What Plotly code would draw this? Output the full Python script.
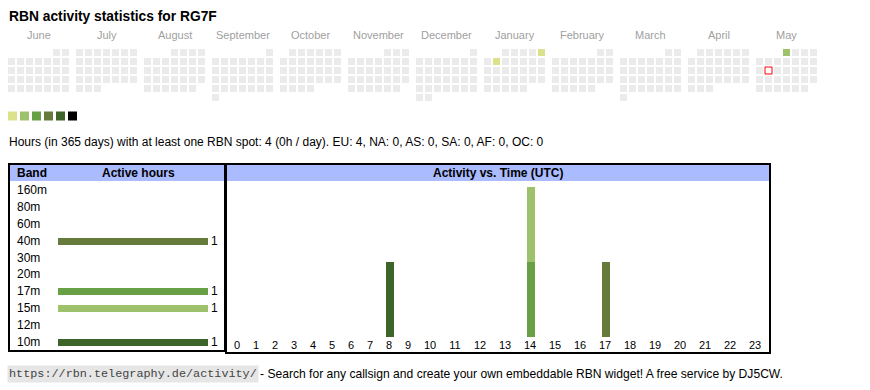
import datetime as dt
import plotly.graph_objects as go

# ---------------- data ----------------
title_text = "RBN activity statistics for RG7F"
month_names = ["June", "July", "August", "September", "October", "November",
               "December", "January", "February", "March", "April", "May"]
cal_start = "2024-06-01"
cal_end = "2025-05-31"
today = "2025-05-13"
active_dates = ["2025-01-05", "2025-01-07", "2025-05-01"]
active_date_hours = [1, 1, 2]
level_colors = ["#dce28b", "#9ec26b", "#68a046", "#667b3b", "#3e6529", "#000000"]
empty_color = "#ebebeb"

stat_text = ("Hours (in 365 days) with at least one RBN spot: 4 (0h / day). "
             "EU: 4, NA: 0, AS: 0, SA: 0, AF: 0, OC: 0")

bands = ["160m", "80m", "60m", "40m", "30m", "20m", "17m", "15m", "12m", "10m"]
band_active_hours = [0, 0, 0, 1, 0, 0, 1, 1, 0, 1]
band_colors = ["#000000", "#3e6529", "#667b3b", "#667b3b", "#68a046",
               "#9ec26b", "#68a046", "#9ec26b", "#dce28b", "#3e6529"]

hours = list(range(24))
hour_labels = [str(h) for h in hours]
band_hour_counts = {
    "40m": [0, 0, 0, 0, 0, 0, 0, 0, 0, 0, 0, 0, 0, 0, 0, 0, 0, 1, 0, 0, 0, 0, 0, 0],
    "17m": [0, 0, 0, 0, 0, 0, 0, 0, 0, 0, 0, 0, 0, 0, 1, 0, 0, 0, 0, 0, 0, 0, 0, 0],
    "15m": [0, 0, 0, 0, 0, 0, 0, 0, 0, 0, 0, 0, 0, 0, 1, 0, 0, 0, 0, 0, 0, 0, 0, 0],
    "10m": [0, 0, 0, 0, 0, 0, 0, 0, 1, 0, 0, 0, 0, 0, 0, 0, 0, 0, 0, 0, 0, 0, 0, 0],
}

footer_url = "https://rbn.telegraphy.de/activity/"
footer_text = "- Search for any callsign and create your own embeddable RBN widget! A free service by DJ5CW."

# ---------------- layout constants (pixels) ----------------
W, H = 870, 390
FONT = "Liberation Sans, Arial, sans-serif"
cal_x0, cal_y0 = 8, 49
cell, pitch, month_step = 7, 9, 68
legend_y, legend_pitch, legend_size = 111.5, 12, 9

fig = go.Figure()

# ---------------- calendar ----------------
d0 = dt.date.fromisoformat(cal_start)
d1 = dt.date.fromisoformat(cal_end)
td = dt.date.fromisoformat(today)
act = {dt.date.fromisoformat(s): v for s, v in zip(active_dates, active_date_hours)}

cx, cy, cc = [], [], []
tx = ty = None
d = d0
while d <= d1:
    m = (d.year - d0.year) * 12 + d.month - d0.month
    first = d.replace(day=1)
    row = (d.day - 1 + first.weekday()) // 7
    x = cal_x0 + m * month_step + d.weekday() * pitch + cell / 2
    y = cal_y0 + row * pitch + cell / 2
    if d == td:
        tx, ty = x, y
    else:
        cx.append(x)
        cy.append(y)
        if d in act:
            cc.append(level_colors[min(act[d], len(level_colors)) - 1])
        else:
            cc.append(empty_color)
    d += dt.timedelta(days=1)

fig.add_trace(go.Scatter(x=cx, y=cy, mode="markers", hoverinfo="skip",
                         marker=dict(symbol="square", size=cell, color=cc, line=dict(width=0)),
                         xaxis="x", yaxis="y", showlegend=False))
fig.add_trace(go.Scatter(x=[tx], y=[ty], mode="markers", hoverinfo="skip",
                         marker=dict(symbol="square", size=cell, color="white",
                                     line=dict(width=1, color="#ff0000")),
                         xaxis="x", yaxis="y", showlegend=False))

# level legend squares
fig.add_trace(go.Scatter(
    x=[cal_x0 + i * legend_pitch + legend_size / 2 for i in range(len(level_colors))],
    y=[legend_y + legend_size / 2] * len(level_colors),
    mode="markers", hoverinfo="skip",
    marker=dict(symbol="square", size=legend_size, color=level_colors, line=dict(width=0)),
    xaxis="x", yaxis="y", showlegend=False))

annotations = []
annotations.append(dict(x=7, y=16, xref="x", yref="y", text="<b>" + title_text + "</b>",
                        showarrow=False, xanchor="left", yanchor="middle",
                        font=dict(family=FONT, size=13.8, color="#000")))
for i, mn in enumerate(month_names):
    annotations.append(dict(x=cal_x0 + i * month_step + (7 * pitch - 2) / 2, y=35,
                            xref="x", yref="y", text=mn, showarrow=False,
                            xanchor="center", yanchor="middle",
                            font=dict(family=FONT, size=11, color="#a0a0a0")))
annotations.append(dict(x=7, y=142, xref="x", yref="y", text=stat_text, showarrow=False,
                        xanchor="left", yanchor="middle",
                        font=dict(family=FONT, size=12, color="#000")))

# ---------------- boxes ----------------
shapes = []
L = (9, 164, 225, 351)
R = (226, 164, 770, 353)
for (x0, y0, x1, y1) in (L, R):
    shapes.append(dict(type="rect", xref="x", yref="y", x0=x0, x1=x1, y0=y0 + 1, y1=181,
                       fillcolor="#aabbff", line=dict(width=0), layer="below"))
for (x0, y0, x1, y1) in (L, R):
    shapes.append(dict(type="rect", xref="x", yref="y", x0=x0, x1=x1, y0=y0, y1=y1,
                       fillcolor="rgba(0,0,0,0)", line=dict(width=2, color="#000"), layer="above"))

annotations.append(dict(x=15, y=173, xref="x", yref="y", text="<b>Band</b>", showarrow=False,
                        xanchor="left", yanchor="middle", font=dict(family=FONT, size=12, color="#000")))
annotations.append(dict(x=138, y=173, xref="x", yref="y", text="<b>Active hours</b>", showarrow=False,
                        xanchor="center", yanchor="middle", font=dict(family=FONT, size=12, color="#000")))
annotations.append(dict(x=498, y=173, xref="x", yref="y", text="<b>Activity vs. Time (UTC)</b>",
                        showarrow=False, xanchor="center", yanchor="middle",
                        font=dict(family=FONT, size=12, color="#000")))

# ---------------- band bars ----------------
band_top, band_bot = 181.5, 350.5
bar_x0, bar_x1 = 58, 208
fig.add_trace(go.Bar(
    y=bands, x=band_active_hours, orientation="h", width=0.41,
    marker=dict(color=band_colors, line=dict(width=0)),
    text=[str(v) if v else "" for v in band_active_hours], textposition="outside",
    constraintext="none",
    textfont=dict(family=FONT, size=12, color="#000"), cliponaxis=False,
    hoverinfo="skip", xaxis="x2", yaxis="y2", showlegend=False))
for b in bands:
    annotations.append(dict(x=15, y=b, xref="x", yref="y2", text=b, showarrow=False,
                            xanchor="left", yanchor="middle",
                            font=dict(family=FONT, size=12, color="#000")))

# ---------------- hour chart ----------------
char_w, col_pad = 6, 13
widths = [char_w * len(s) + col_pad for s in hour_labels]
centers = []
acc = 0
for w in widths:
    centers.append(acc + w / 2)
    acc += w
hour_left = 227.5
hour_total = acc
max_stack = max(sum(band_hour_counts[b][h] for b in band_hour_counts) for h in hours)
px_per_unit = 75
h_bot = 337
h_top = h_bot - max_stack * px_per_unit

for b, col in zip(bands, band_colors):
    if b in band_hour_counts:
        fig.add_trace(go.Bar(x=centers, y=band_hour_counts[b], width=8,
                             marker=dict(color=col, line=dict(width=0)),
                             hoverinfo="skip", xaxis="x3", yaxis="y3", showlegend=False))

annotations.append(dict(x=7, y=374, xref="x", yref="y", text=footer_url, showarrow=False,
                        xanchor="left", yanchor="middle", bgcolor="#e6e6e6", borderpad=1,
                        font=dict(family="Liberation Mono, DejaVu Sans Mono, monospace",
                                  size=11.8, color="#444")))
annotations.append(dict(x=258, y=374, xref="x", yref="y", text=footer_text, showarrow=False,
                        xanchor="left", yanchor="middle",
                        font=dict(family=FONT, size=12.1, color="#000")))

hidden = dict(visible=False, showgrid=False, zeroline=False, fixedrange=True)
fig.update_layout(
    width=W, height=H, margin=dict(l=0, r=0, t=0, b=0),
    paper_bgcolor="white", plot_bgcolor="rgba(0,0,0,0)",
    barmode="stack", bargap=0, showlegend=False,
    xaxis=dict(hidden, domain=[0, 1], range=[0, W]),
    yaxis=dict(hidden, domain=[0, 1], range=[H, 0]),
    xaxis2=dict(hidden, domain=[bar_x0 / W, bar_x1 / W], range=[0, max(band_active_hours)]),
    yaxis2=dict(hidden, domain=[1 - band_bot / H, 1 - band_top / H], type="category",
                categoryorder="array", categoryarray=bands, range=[len(bands) - 0.5, -0.5]),
    xaxis3=dict(domain=[hour_left / W, (hour_left + hour_total) / W], range=[0, hour_total],
                tickvals=centers, ticktext=hour_labels, ticks="", showline=False,
                showgrid=False, zeroline=False, fixedrange=True,
                tickfont=dict(family=FONT, size=11, color="#000"), anchor="y3"),
    yaxis3=dict(hidden, domain=[1 - h_bot / H, 1 - h_top / H], range=[0, max_stack]),
    shapes=shapes, annotations=annotations,
)
fig.write_html("out.html", config={"displayModeBar": False},
               post_script="document.body.style.margin='0px';")
